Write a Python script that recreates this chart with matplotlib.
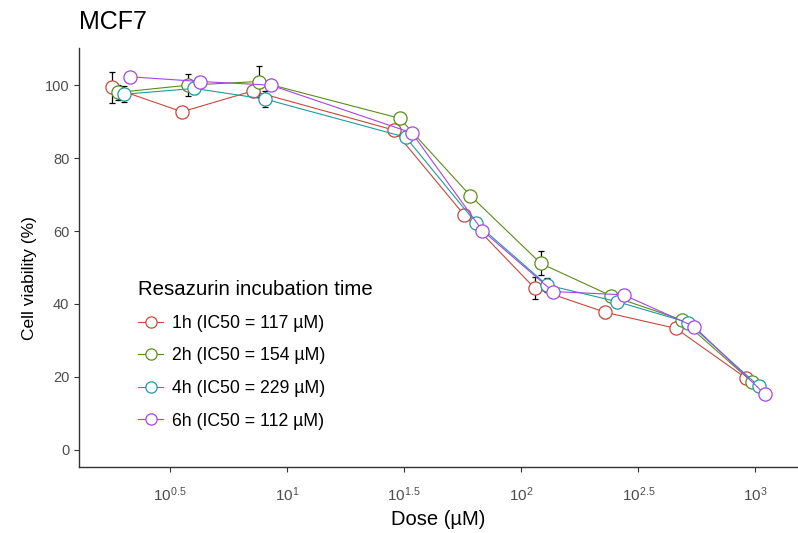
import numpy as np
import matplotlib.pyplot as plt

plt.rcParams['font.family'] = ['Liberation Sans', 'DejaVu Sans']
plt.rcParams['mathtext.fontset'] = 'custom'
plt.rcParams['mathtext.rm'] = 'Liberation Sans'
plt.rcParams['mathtext.it'] = 'Liberation Sans'

# doses in µM
dose = [1000 / 512, 1000 / 256, 1000 / 128, 31.25, 62.5, 125, 250, 500, 1000]

labels = ['1h (IC50 = 117 µM)', '2h (IC50 = 154 µM)',
          '4h (IC50 = 229 µM)', '6h (IC50 = 112 µM)']
colors = ['#C9483B', '#5B8C1A', '#1F9AA0', '#A446E6']

via_1h = [99.4, 92.7, 98.4, 87.7, 64.4, 44.3, 37.7, 33.3, 19.6]
via_2h = [98.0, 100.0, 101.0, 90.9, 69.7, 51.1, 42.2, 35.6, 18.5]
via_4h = [97.5, 99.1, 96.2, 85.7, 62.1, 45.2, 40.6, 34.9, 17.5]
via_6h = [102.3, 101.0, 100.0, 86.9, 60.1, 43.4, 42.5, 33.8, 15.3]

err_1h = [4.3, 1.0, 1.5, 1.0, 1.2, 3.0, 1.5, 1.0, 1.0]
err_2h = [2.0, 3.0, 4.3, 1.0, 1.2, 3.3, 1.0, 1.0, 1.0]
err_4h = [2.2, 1.5, 2.2, 1.0, 1.0, 1.8, 1.0, 1.0, 1.0]
err_6h = [1.0, 1.0, 1.0, 1.0, 1.0, 1.0, 1.0, 1.0, 1.0]

series = [via_1h, via_2h, via_4h, via_6h]
errors = [err_1h, err_2h, err_4h, err_6h]

fig = plt.figure(figsize=(7.98, 5.33), dpi=100)
ax = fig.add_axes([0.099, 0.124, 0.9, 0.786])

dodge = 0.026
logd = np.log10(dose)
for i, (y, e, c, lab) in enumerate(zip(series, errors, colors, labels)):
    x = 10 ** (logd + (i - 1.5) * dodge)
    ax.errorbar(x, y, yerr=e, fmt='none', ecolor='black', elinewidth=0.9,
                capsize=2, capthick=0.9, zorder=2)
    ax.plot(x, y, color=c, lw=0.8, marker='o', ms=9.5, mfc='white',
            mec=c, mew=0.9, label=lab, zorder=3)

ax.set_xscale('log')
ax.set_xlim(10 ** 0.113, 10 ** 3.178)
ax.set_ylim(-4.7, 110.2)
ticks = [0.5, 1, 1.5, 2, 2.5, 3]
ax.set_xticks([10 ** t for t in ticks])
ax.set_xticklabels(['$10^{%g}$' % t for t in ticks])
ax.minorticks_off()
ax.set_yticks([0, 20, 40, 60, 80, 100])

for s in ['top', 'right']:
    ax.spines[s].set_visible(False)
for s in ['left', 'bottom']:
    ax.spines[s].set_linewidth(1.0)
    ax.spines[s].set_color('#333333')
ax.tick_params(colors='#333333', labelcolor='#4D4D4D', labelsize=10.5,
               length=3.5, width=0.8)
ax.tick_params(axis='x', labelsize=11, pad=10)

ax.set_xlabel('Dose (µM)', fontsize=14.5, color='black', labelpad=4)
ax.set_ylabel('Cell viability (%)', fontsize=12.5, color='black')
ax.yaxis.set_label_coords(-0.058, 0.45)
fig.text(0.099, 0.958, 'MCF7', fontsize=18, ha='left', va='center')

leg = ax.legend(loc='upper left', bbox_to_anchor=(0.072, 0.462), frameon=False,
                fontsize=12.7, title='Resazurin incubation time',
                title_fontsize=14.7, labelspacing=0.88, handlelength=1.45,
                handletextpad=0.5, markerscale=0.85, borderaxespad=0)
leg._legend_box.align = 'left'

fig.savefig('out.png', dpi=100)
